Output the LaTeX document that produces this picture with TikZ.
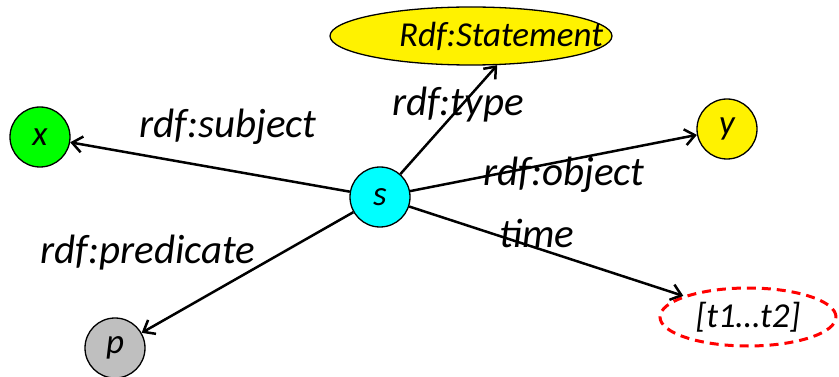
\documentclass[tikz,border=0pt]{standalone}
\usepackage{fontspec}
\setmainfont{Carlito}
\usetikzlibrary{arrows.meta, % 箭头
  shapes.geometric}          % 椭圆

\definecolor{aqua}{RGB}{0,255,255}
\definecolor{lime}{RGB}{0,255,0}

\begin{document}
\begin{tikzpicture}[x=1pt,y=-1pt,>={Straight Barb[length=10pt,width=16pt]},
  % 全局: 所有文字都是斜体
  every node/.style={font=\fontsize{35}{42}\selectfont\itshape},
  % 资源节点 (圆)
  res/.style={circle,draw,line width=1.3pt,minimum size=60pt,inner sep=0pt},
  % 类节点 (黄色椭圆)
  cls/.style={ellipse,draw,line width=1.3pt,fill=yellow,minimum width=282pt,minimum height=58pt,inner sep=0pt},
  % 字面值节点 (红色虚线椭圆)
  lit/.style={ellipse,draw=red,line width=3pt,dash pattern=on 9pt off 6pt,minimum width=176pt,minimum height=58pt,inner sep=0pt},
  % 边和边上的标签
  prop/.style={->,line width=2.5pt},
  plabel/.style={font=\fontsize{41}{48}\selectfont\itshape}]

  \useasboundingbox (0,0) rectangle (839,377);

  \node [res,fill=aqua] (s) at (380,197) {s};
  \node [res,fill=lime] (x) at (40,137) {x};
  \node [res,fill=yellow] (y) at (727,129) {y};
  \node [res,fill=black!25] (p) at (115,348) {p};
  \node [cls,label={[xshift=30pt]center:{Rdf:Statement}}] (st) at (471,36) {};
  \node [lit] (t) at (748,317) {[t1…t2]};

  % 边
  \draw [prop] (s) -- (x);
  \draw [prop] (s) -- (st.-48);
  \draw [prop] (s) -- (y);
  \draw [prop] (s) -- (p);
  \draw [prop] (s) -- (t);

  % 边上的标签
  \node [plabel] (lsub) at (228,127) {rdf:subject};
  \node [plabel] (ltype) at (458,105) {rdf:type};
  \node [plabel] (lobj) at (564,175) {rdf:object};
  \node [plabel] (ltime) at (537,233) {time};
  \node [plabel] (lpred) at (148,253) {rdf:predicate};

\end{tikzpicture}
\end{document}
